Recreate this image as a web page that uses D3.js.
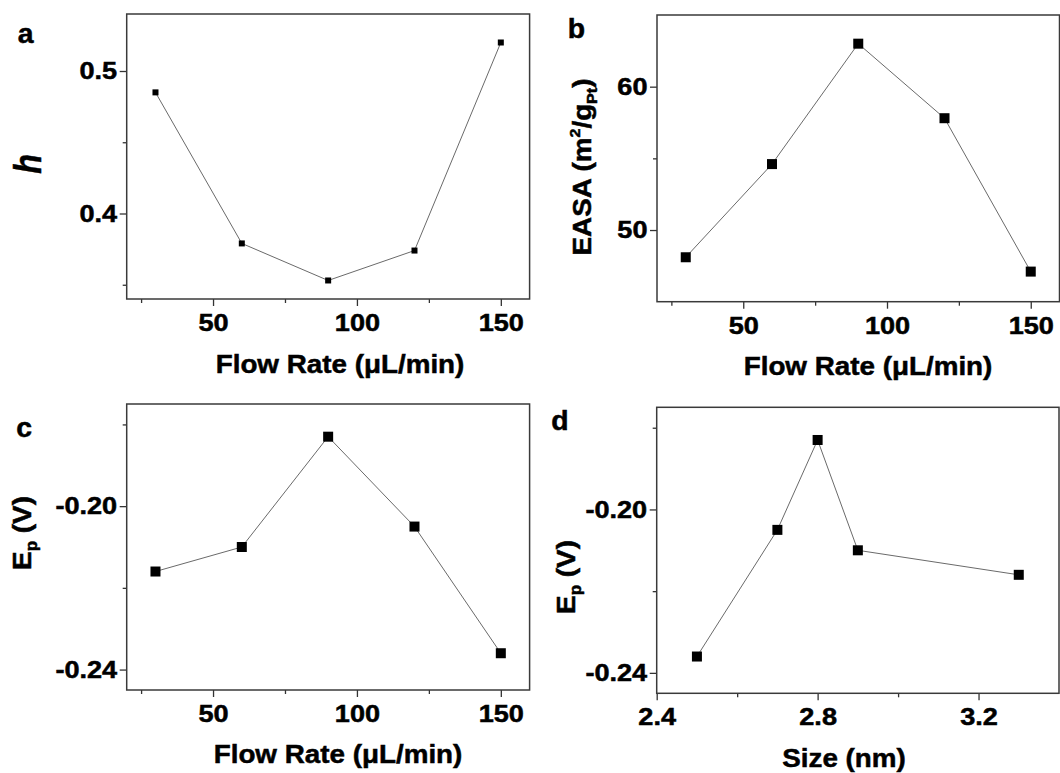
<!DOCTYPE html>
<html>
<head>
<meta charset="utf-8">
<script src="https://cdn.jsdelivr.net/npm/d3@7"></script>
<style>
body { margin: 0; background: #fff; }
svg { display: block; }
text { font-family: "Liberation Sans", Arial, sans-serif; font-weight: bold; fill: #000; stroke: #000; stroke-width: 0.5px; white-space: pre; }
</style>
</head>
<body>
<svg id="chart" width="1060" height="773"></svg>
<script>
// values
var flowRate = [30, 60, 90, 120, 150];
var hValues = [0.485, 0.379, 0.353, 0.374, 0.520];
var easaValues = [48.1, 54.6, 63.0, 57.8, 47.1];
var epFlow = [-0.216, -0.210, -0.183, -0.205, -0.236];
var sizeNm = [2.5, 2.7, 2.8, 2.9, 3.3];
var epSize = [-0.236, -0.205, -0.183, -0.210, -0.216];

var flowTicks = [50, 100, 150];
var flowMinor = [25, 75, 125];
var hTicks = [0.4, 0.5];
var hMinor = [0.35, 0.45];
var easaTicks = [50, 60];
var easaMinor = [55];
var epTicks = [-0.24, -0.20];
var epMinor = [-0.22, -0.18];
var sizeTicks = [2.4, 2.8, 3.2];
var sizeMinor = [2.6, 3.0];

var svg = d3.select("#chart");
var tickSx = 1.13;
var titleSx = 1.07;
var fontFam = "Liberation Sans, Arial, sans-serif";

function styleAxis(g)
{
    g.select(".domain").remove();
    g.attr("font-family", fontFam).attr("font-size", 24).attr("font-weight", "bold");
    g.selectAll("line").attr("stroke", "#333").attr("stroke-width", 1.3);
    g.selectAll("text").attr("fill", "#000");
}

function drawPanel(p)
{
    var x = d3.scaleLinear().domain(p.xDomain).range([p.left, p.right]);
    var y = d3.scaleLinear().domain(p.yDomain).range([p.bottom, p.top]);
    var g = svg.append("g");

    // minor ticks, no labels
    g.append("g").attr("transform", "translate(0," + p.bottom + ")")
	.call(d3.axisBottom(x).tickValues(p.xMinor).tickSize(4).tickSizeOuter(0).tickFormat(""))
	.call(styleAxis);
    g.append("g").attr("transform", "translate(" + p.left + ",0)")
	.call(d3.axisLeft(y).tickValues(p.yMinor).tickSize(4).tickSizeOuter(0).tickFormat(""))
	.call(styleAxis);

    // major ticks
    var xa = g.append("g").attr("transform", "translate(0," + p.bottom + ")")
	.call(d3.axisBottom(x).tickValues(p.xTicks).tickSize(7).tickSizeOuter(0).tickPadding(8).tickFormat(p.xFmt))
	.call(styleAxis);
    xa.selectAll("text").attr("transform", "scale(" + tickSx + ",1)");

    var ya = g.append("g").attr("transform", "translate(" + p.left + ",0)")
	.call(d3.axisLeft(y).tickValues(p.yTicks).tickSize(7).tickSizeOuter(0).tickFormat(p.yFmt))
	.call(styleAxis);
    ya.selectAll("text").attr("x", 0).attr("transform", "translate(-9.5,0) scale(" + tickSx + ",1)");

    g.append("rect")
	.attr("x", p.left).attr("y", p.top)
	.attr("width", p.right - p.left).attr("height", p.bottom - p.top)
	.attr("fill", "none").attr("stroke", "#3a3a3a").attr("stroke-width", 1.5);

    var pts = p.xs.map(function(d, i) { return [d, p.ys[i]]; });
    var line = d3.line().x(function(d) { return x(d[0]); }).y(function(d) { return y(d[1]); });
    g.append("path")
	.attr("d", line(pts))
	.attr("fill", "none").attr("stroke", "#6a6a6a").attr("stroke-width", 1);

    g.selectAll(".mk").data(pts).enter().append("rect")
	.attr("x", function(d) { return x(d[0]) - p.mark / 2; })
	.attr("y", function(d) { return y(d[1]) - p.mark / 2; })
	.attr("width", p.mark).attr("height", p.mark)
	.attr("fill", "#000");
}

function label(x, y, rot, size, sx)
{
    return svg.append("text")
	.attr("transform", "translate(" + x + "," + y + ") rotate(" + rot + ") scale(" + sx + ",1)")
	.attr("text-anchor", "middle")
	.attr("font-size", size);
}

var fmt1 = function(d) { return d.toFixed(1); };
var fmt0 = function(d) { return d.toFixed(0); };
var fmt2 = function(d) { return d.toFixed(2); };

drawPanel({left: 126.7, right: 529.6, top: 14, bottom: 299,
	   xDomain: [20, 160], yDomain: [0.34, 0.54],
	   xTicks: flowTicks, xMinor: flowMinor, yTicks: hTicks, yMinor: hMinor,
	   xFmt: fmt0, yFmt: fmt1, xs: flowRate, ys: hValues, mark: 6});
drawPanel({left: 657, right: 1059.5, top: 15, bottom: 301.7,
	   xDomain: [20, 160], yDomain: [45, 65],
	   xTicks: flowTicks, xMinor: flowMinor, yTicks: easaTicks, yMinor: easaMinor,
	   xFmt: fmt0, yFmt: fmt0, xs: flowRate, ys: easaValues, mark: 10});
drawPanel({left: 126.7, right: 529.6, top: 404, bottom: 690,
	   xDomain: [20, 160], yDomain: [-0.245, -0.175],
	   xTicks: flowTicks, xMinor: flowMinor, yTicks: epTicks, yMinor: epMinor,
	   xFmt: fmt0, yFmt: fmt2, xs: flowRate, ys: epFlow, mark: 10});
drawPanel({left: 656.7, right: 1059, top: 407.3, bottom: 693.3,
	   xDomain: [2.4, 3.4], yDomain: [-0.245, -0.175],
	   xTicks: sizeTicks, xMinor: sizeMinor, yTicks: epTicks, yMinor: epMinor,
	   xFmt: fmt1, yFmt: fmt2, xs: sizeNm, ys: epSize, mark: 10});

// panel letters
label(25.5, 43, 0, 27, 1.05).text("a");
label(576.5, 38, 0, 27, 1.05).text("b");
label(24, 437, 0, 27, 1.05).text("c");
label(560, 430, 0, 27, 1.05).text("d");

// x titles
label(340, 373, 0, 26, titleSx).text("Flow Rate (\u03bcL/min)");
label(868, 375, 0, 26, titleSx).text("Flow Rate (\u03bcL/min)");
label(338, 763, 0, 26, titleSx).text("Flow Rate (\u03bcL/min)");
label(844, 767, 0, 26, titleSx).text("Size (nm)");

// y titles
label(41, 164, -90, 38, 0.85).attr("font-style", "italic").text("h");

var easa = label(591, 167, -90, 26, titleSx);
easa.append("tspan").text("EASA (m");
easa.append("tspan").attr("font-size", 15).attr("dy", -11).text("2");
easa.append("tspan").attr("dy", 11).text("/g");
easa.append("tspan").attr("font-size", 15).attr("dy", 6).text("Pt");
easa.append("tspan").attr("dy", -6).text(")");

function epTitle(x, y)
{
    var t = label(x, y, -90, 26, titleSx);
    t.append("tspan").text("E");
    t.append("tspan").attr("font-size", 16).attr("dy", 6).text("p");
    t.append("tspan").attr("dy", -6).text(" (V)");
}
epTitle(31, 533);
epTitle(575, 577);
</script>
</body>
</html>
